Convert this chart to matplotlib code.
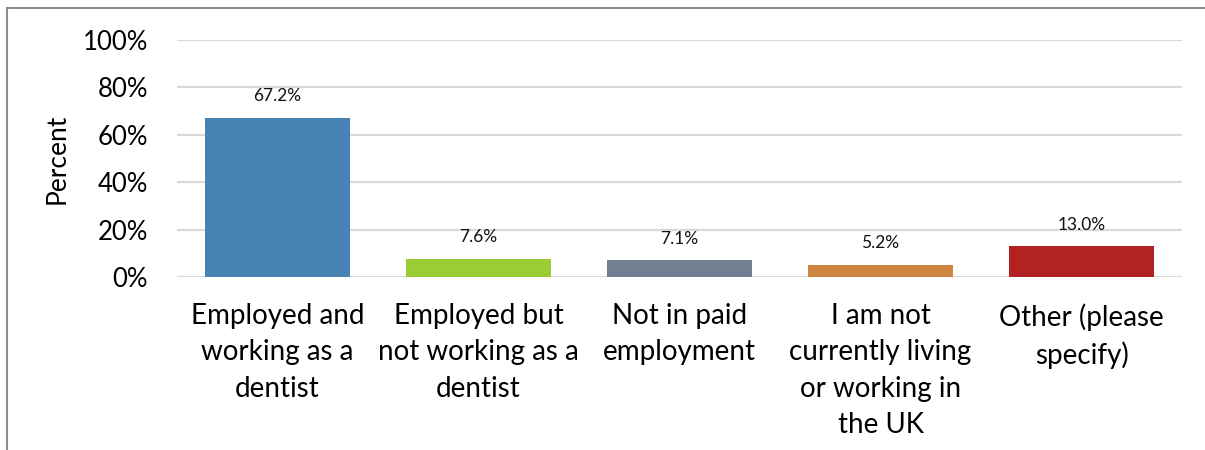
import matplotlib.pyplot as plt
from matplotlib.lines import Line2D
from matplotlib.ticker import PercentFormatter

categories = [
    "Employed and\nworking as a\ndentist",
    "Employed but\nnot working as a\ndentist",
    "Not in paid\nemployment",
    "I am not\ncurrently living\nor working in\nthe UK",
    "Other (please\nspecify)",
]
percents = [67.2, 7.6, 7.1, 5.2, 13.0]
colors = ["#4682B4", "#9ACD32", "#708090", "#CD853F", "#B22222"]
yticks = [0, 20, 40, 60, 80, 100]

plt.rcParams['font.family'] = ['Lato', 'DejaVu Sans']

fig = plt.figure(figsize=(12.05, 4.5), dpi=100)
W, H = 1205, 450
ax = fig.add_axes([177 / W, 1 - 277 / H, 1005 / W, 237 / H])

x = range(len(categories))
bars = ax.bar(x, percents, width=0.72, color=colors, zorder=3)
for rect, v in zip(bars, percents):
    ax.annotate(f"{v:.1f}%", (rect.get_x() + rect.get_width() / 2, v),
                xytext=(0, 12), textcoords="offset points",
                ha="center", va="baseline", fontsize=12.5, color="#111111")

ax.set_xlim(-0.5, len(categories) - 0.5)
ax.set_ylim(0, 100)
ax.set_yticks(yticks)
ax.yaxis.set_major_formatter(PercentFormatter(decimals=0))
ax.set_xticks(list(x))
ax.set_xticklabels(categories, fontsize=20, linespacing=1.48, va="top")
ax.tick_params(axis="x", length=0, pad=19)
ax.tick_params(axis="y", length=0, pad=21, labelsize=18.5)
ax.grid(axis="y", color="#d9d9d9", linewidth=1.6, zorder=0)
for s in ax.spines.values():
    s.set_visible(False)
ax.set_ylabel("Percent", fontsize=19, labelpad=9)

# outer chart frame (left and top edges)
fig.add_artist(Line2D([7 / W, 7 / W], [0, 1 - 8 / H], transform=fig.transFigure,
                      color="#8c8c8c", linewidth=1.5))
fig.add_artist(Line2D([7 / W, 1], [1 - 8 / H, 1 - 8 / H], transform=fig.transFigure,
                      color="#8c8c8c", linewidth=1.5))

fig.savefig("out.png", dpi=100)
